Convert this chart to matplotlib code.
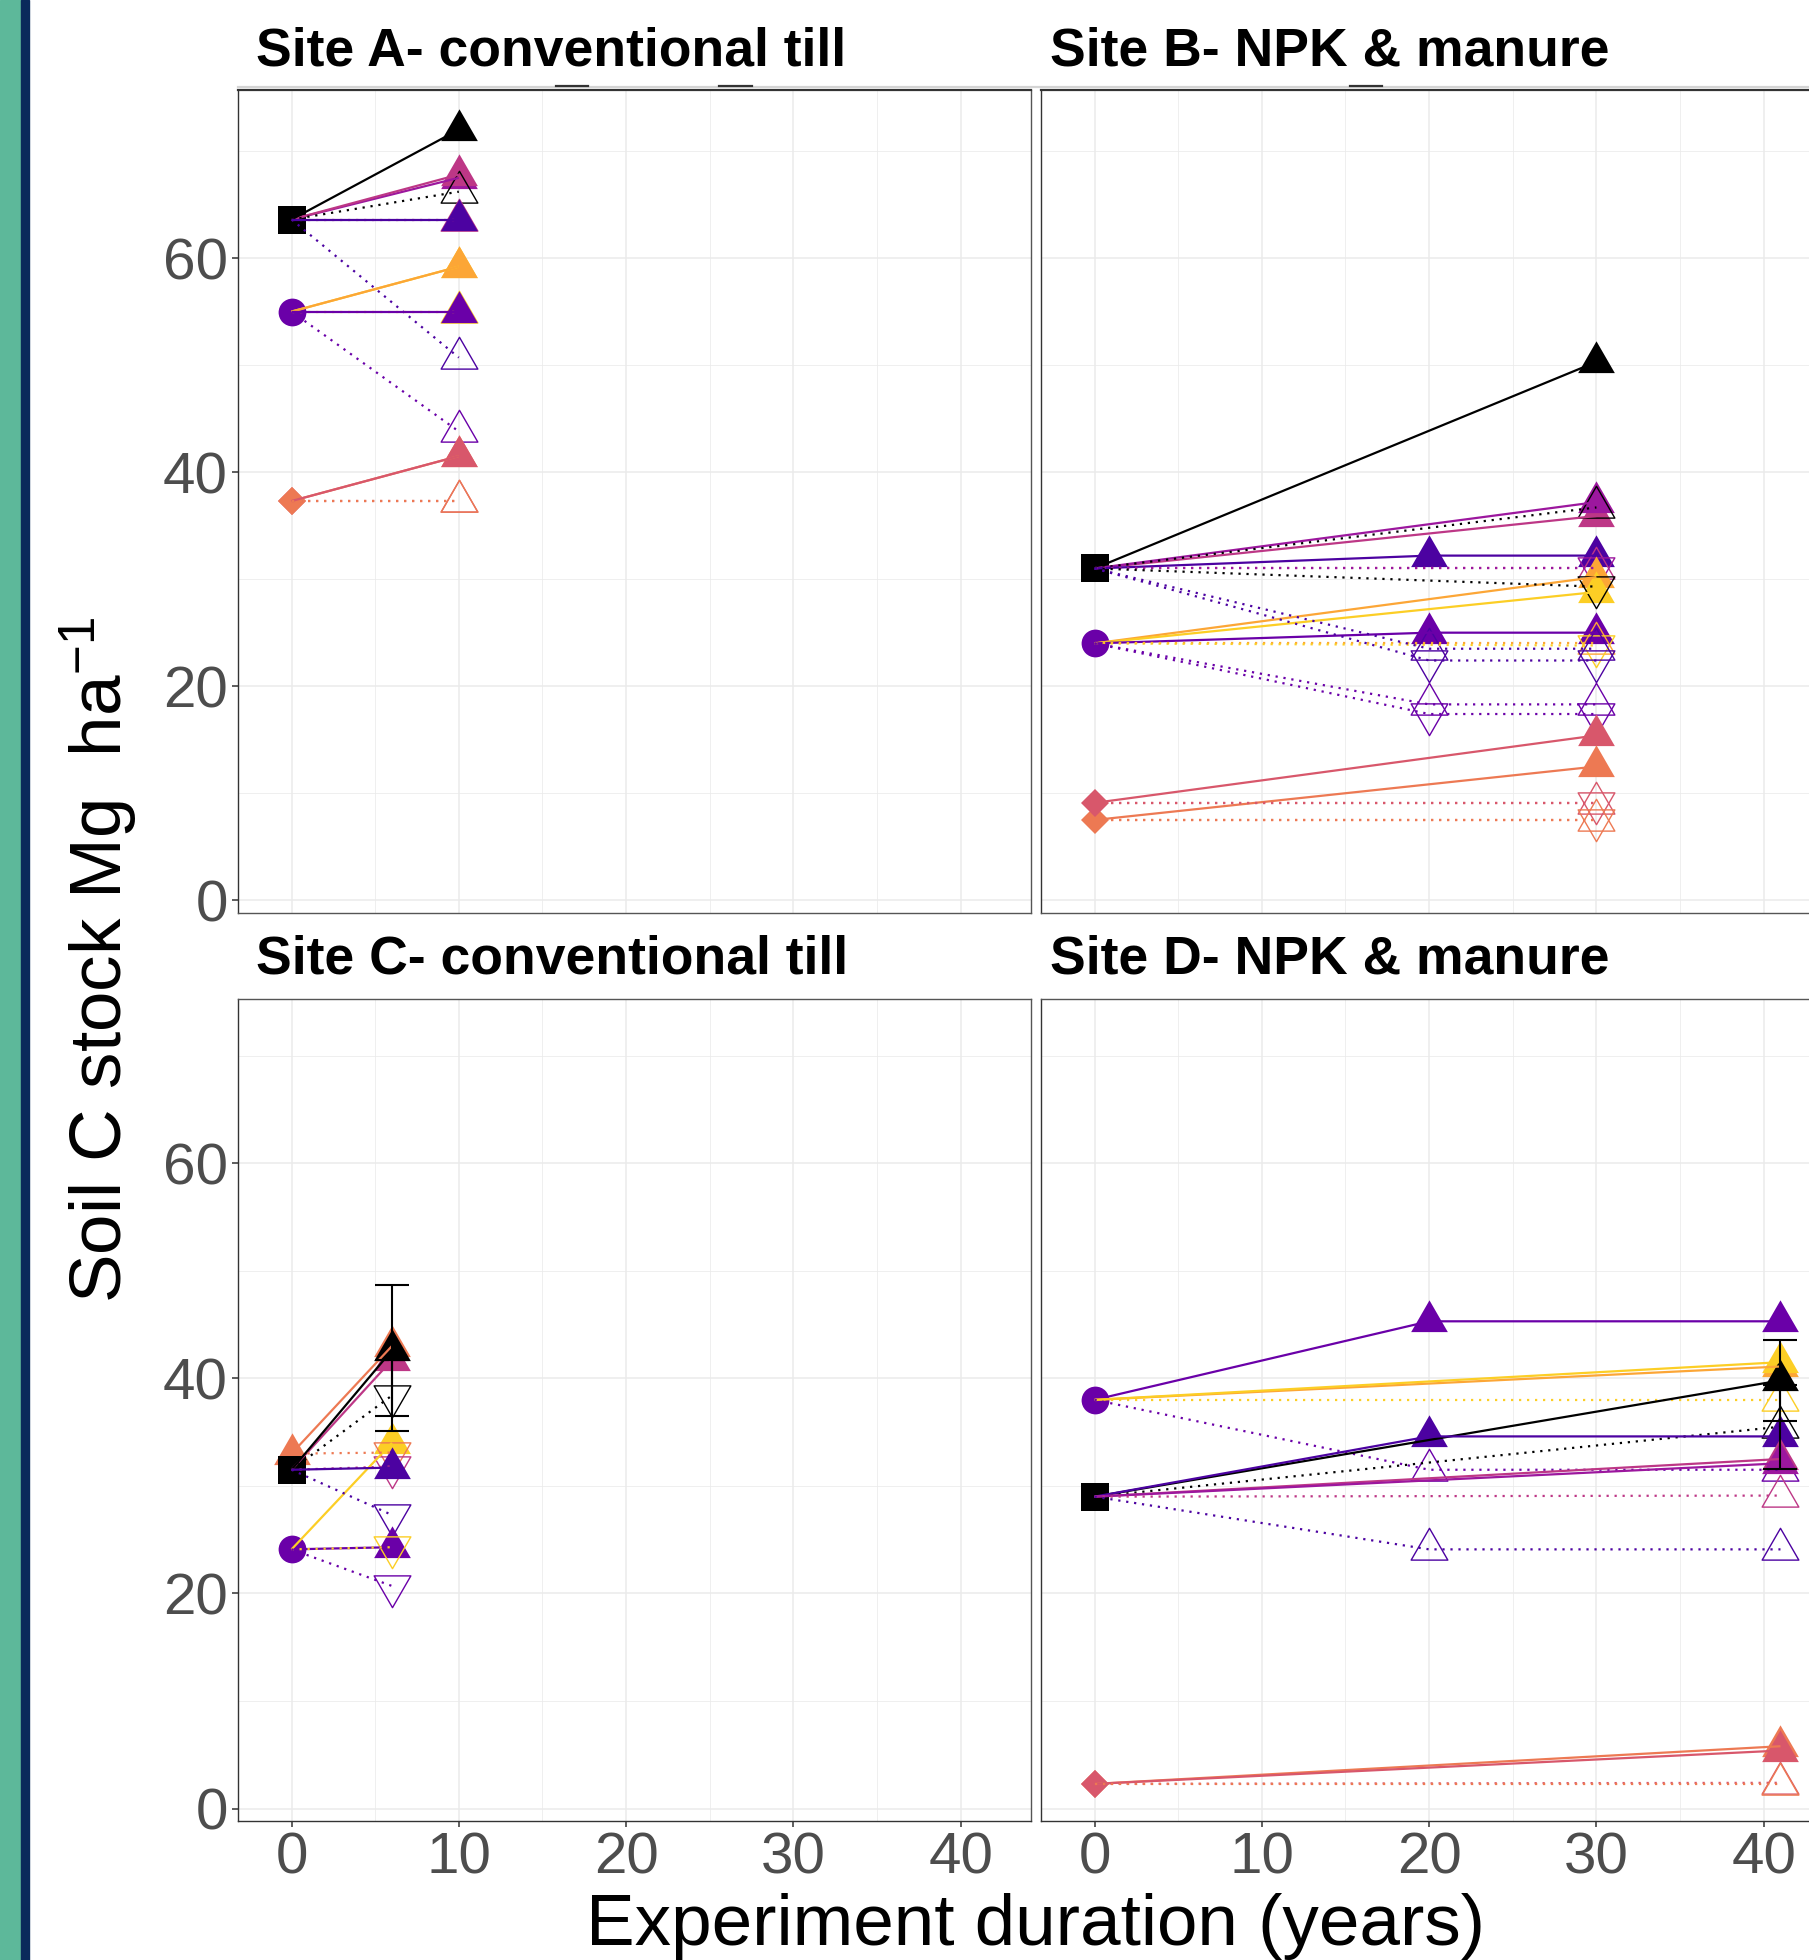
import numpy as np
import matplotlib
matplotlib.use("Agg")
from matplotlib import pyplot as plt
from matplotlib.path import Path
from matplotlib.patches import Rectangle
from matplotlib.lines import Line2D

plt.rcParams['font.family'] = ['Liberation Sans', 'DejaVu Sans']
plt.rcParams['mathtext.fontset'] = 'custom'
plt.rcParams['mathtext.rm'] = 'Liberation Sans'
plt.rcParams['mathtext.it'] = 'Liberation Sans:italic'
plt.rcParams['mathtext.bf'] = 'Liberation Sans:bold'

# ---------------- data ----------------
titles = ["Site A- conventional till", "Site B- NPK & manure",
          "Site C- conventional till", "Site D- NPK & manure"]

# year-0 reference points: (shape, colour, value)
# series: (colour, type, values per year)  type: fill = measured (solid),
#         up / down = hollow triangles (dotted)
years_A = [0, 10]
base_A = [("di", "red", 37.3), ("di", "ora", 37.3), ("ci", "pur", 55.0), ("sq", "k", 63.6)]
site_A = [
    ("mag", "fill", [63.6, 67.5]),
    ("pink", "fill", [63.6, 67.8]),
    ("k", "fill", [63.6, 72.0]),
    ("k", "up", [63.6, 66.2]),
    ("pink", "up", [63.6, 63.6]),
    ("ind", "fill", [63.6, 63.6]),
    ("ind", "up", [63.6, 50.7]),
    ("yel", "fill", [55.0, 59.2]),
    ("lor", "fill", [55.0, 59.2]),
    ("yel", "up", [55.0, 55.0]),
    ("pur", "fill", [55.0, 55.0]),
    ("pur", "up", [55.0, 43.8]),
    ("ora", "fill", [37.3, 41.5]),
    ("red", "fill", [37.3, 41.5]),
    ("red", "up", [37.3, 37.3]),
    ("ora", "up", [37.3, 37.3]),
]

years_B = [0, 20, 30]
base_B = [("di", "ora", 7.5), ("di", "red", 9.1), ("ci", "pur", 24.0), ("sq", "k", 31.0)]
site_B = [
    ("k", "fill", [31.0, None, 50.3]),
    ("pink", "fill", [31.0, None, 35.9]),
    ("mag", "fill", [31.0, None, 37.2]),
    ("k", "up", [31.0, None, 36.7]),
    ("ind", "fill", [31.0, 32.2, 32.2]),
    ("pink", "up", [31.0, None, 31.0]),
    ("mag", "down", [31.0, None, 31.0]),
    ("lor", "fill", [24.0, None, 30.2]),
    ("yel", "fill", [24.0, None, 28.8]),
    ("k", "down", [31.0, None, 29.3]),
    ("pur", "fill", [24.0, 25.0, 25.0]),
    ("lor", "up", [24.0, None, 24.0]),
    ("yel", "down", [24.0, None, 23.8]),
    ("ind", "up", [31.0, 23.5, 23.5]),
    ("ind", "down", [31.0, 22.4, 22.4]),
    ("pur", "up", [24.0, 18.3, 18.3]),
    ("pur", "down", [24.0, 17.4, 17.4]),
    ("red", "fill", [9.1, None, 15.4]),
    ("ora", "fill", [7.5, None, 12.5]),
    ("red", "up", [9.1, None, 9.1]),
    ("red", "down", [9.1, None, 9.1]),
    ("ora", "up", [7.5, None, 7.5]),
    ("ora", "down", [7.5, None, 7.5]),
]

years_C = [0, 6]
base_C = [("tri", "ora", 33.0), ("ci", "pur", 24.1), ("sq", "k", 31.5)]
site_C = [
    ("ora", "fill", [33.0, 43.0]),
    ("pink", "fill", [31.5, 41.7]),
    ("k", "fill", [31.5, 42.6]),
    ("k", "down", [31.5, 38.4]),
    ("yel", "fill", [24.1, 34.0]),
    ("ora", "down", [33.0, 33.1]),
    ("pink", "down", [31.5, 31.8]),
    ("ind", "fill", [31.5, 31.7]),
    ("ind", "down", [31.5, 27.3]),
    ("pur", "fill", [24.1, 24.3]),
    ("yel", "down", [24.1, 24.3]),
    ("pur", "down", [24.1, 20.7]),
]
err_C = [("k", "fill", 6.1), ("k", "down", 3.3)]

years_D = [0, 20, 41]
base_D = [("di", "ora", 2.3), ("di", "red", 2.3), ("ci", "pur", 38.0), ("sq", "k", 29.0)]
site_D = [
    ("pur", "fill", [38.0, 45.3, 45.3]),
    ("lor", "fill", [38.0, None, 41.1]),
    ("yel", "fill", [38.0, None, 41.5]),
    ("yel", "up", [38.0, None, 38.0]),
    ("pur", "up", [38.0, 31.5, 31.5]),
    ("k", "fill", [29.0, None, 39.8]),
    ("k", "up", [29.0, None, 35.5]),
    ("ind", "fill", [29.0, 34.6, 34.6]),
    ("pink", "fill", [29.0, None, 32.5]),
    ("mag", "fill", [29.0, None, 32.1]),
    ("pink", "up", [29.0, None, 29.1]),
    ("ind", "up", [29.0, 24.1, 24.1]),
    ("ora", "fill", [2.3, None, 5.8]),
    ("red", "fill", [2.3, None, 5.4]),
    ("red", "up", [2.3, None, 2.4]),
    ("ora", "up", [2.3, None, 2.3]),
]
err_D = [("k", "fill", 3.8), ("k", "up", 3.9)]

# ---------------- style ----------------
pal = {
    'k': '#000000', 'ind': '#4C02A1', 'pur': '#6A00A8', 'mag': '#9C179E',
    'pink': '#BD3786', 'red': '#D8576B', 'ora': '#ED7953', 'lor': '#FCA636',
    'yel': '#FCCE25',
}

# equilateral triangles centred on the centroid (like ggplot shape 17 / 2 / 6)
tri_up = Path([(0, 0.577), (-0.5, -0.289), (0.5, -0.289), (0, 0.577)],
              [Path.MOVETO, Path.LINETO, Path.LINETO, Path.CLOSEPOLY])
tri_dn = Path([(0, -0.577), (-0.5, 0.289), (0.5, 0.289), (0, -0.577)],
              [Path.MOVETO, Path.LINETO, Path.LINETO, Path.CLOSEPOLY])
TRI_MS = 30.5
base_mk = {"sq": ("s", 20), "ci": ("o", 20), "di": ("D", 14), "tri": (tri_up, TRI_MS)}

W, H = 1809, 1960
fig = plt.figure(figsize=(W / 100, H / 100), dpi=100)


def box(l, t, r, b):
    return [l / W, 1 - b / H, (r - l) / W, (b - t) / H]


def draw(ax, years, base, series, errs=()):
    for shape, col, v in base:
        mk, ms = base_mk[shape]
        ax.plot([0], [v], ls='none', marker=mk, ms=ms, color=pal[col], mew=0, zorder=3)
    last = {}
    for col, kind, vals in series:
        x = [yr for yr, v in zip(years, vals) if v is not None]
        y = [v for v in vals if v is not None]
        c = pal[col]
        if kind == 'fill':
            ax.plot(x[1:], y[1:], ls='none', marker=tri_up, ms=TRI_MS, color=c, mew=0, zorder=3)
            ax.plot(x, y, color=c, lw=1.6, zorder=4, solid_capstyle='butt')
        else:
            mk = tri_up if kind == 'up' else tri_dn
            ax.plot(x[1:], y[1:], ls='none', marker=mk, ms=TRI_MS, mfc='none', mec=c,
                    mew=1.0, zorder=3)
            ax.plot(x, y, color=c, lw=1.6, ls=(0, (1, 2.6)), zorder=4)
        last[(col, kind)] = (x[-1], y[-1])
    for col, kind, e in errs:
        xe, ye = last[(col, kind)]
        ax.errorbar([xe], [ye], yerr=[e], fmt='none', ecolor=pal[col], elinewidth=1.5,
                    capsize=12, capthick=1.5, zorder=5)


panels = [
    (box(238, 90, 1031, 913), (-1.19, 75.7), years_A, base_A, site_A, ()),
    (box(1041, 90, 1834, 913), (-1.19, 75.7), years_B, base_B, site_B, ()),
    (box(238, 999, 1031, 1821), (-1.15, 75.26), years_C, base_C, site_C, err_C),
    (box(1041, 999, 1834, 1821), (-1.15, 75.26), years_D, base_D, site_D, err_D),
]

for i, (rect, ylim, years, base, series, errs) in enumerate(panels):
    ax = fig.add_axes(rect)
    draw(ax, years, base, series, errs)
    ax.set_xlim(-3.2, 44.2)
    ax.set_ylim(*ylim)
    ax.set_xticks([0, 10, 20, 30, 40])
    ax.set_xticks([5, 15, 25, 35], minor=True)
    ax.set_yticks([0, 20, 40, 60])
    ax.set_yticks([10, 30, 50, 70], minor=True)
    ax.grid(which='major', color='#EBEBEB', lw=1.1)
    ax.grid(which='minor', color='#EBEBEB', lw=0.55)
    ax.set_axisbelow(True)
    ax.tick_params(which='minor', length=0)
    ax.tick_params(which='major', labelsize=42, labelcolor='#4D4D4D', length=4.3,
                   width=1.1, color='#333333', pad=3)
    left = i in (0, 2)
    bottom = i in (2, 3)
    ax.tick_params(axis='y', left=left, labelleft=left)
    ax.tick_params(axis='x', bottom=bottom, labelbottom=bottom)
    for s in ax.spines.values():
        s.set_color('#555555')
        s.set_linewidth(1.0)
    ax.spines['left'].set_color('#333333')
    if i < 2:
        ax.spines['top'].set_color('#333333')
        ax.spines['top'].set_linewidth(1.6)
    if bottom:
        ax.spines['bottom'].set_color('#333333')

# light band above the top row and small leftover marks
fig.add_artist(Line2D([238 / W, 1], [1 - 87.5 / H] * 2, color='#D4D4D4', lw=1.6))
for x0, x1 in [(556, 588), (719, 752), (1350, 1382)]:
    fig.add_artist(Line2D([x0 / W, x1 / W], [1 - 86.5 / H] * 2, color='#333333', lw=1.6))

# strip titles
fig.text(256 / W, 1 - 66 / H, titles[0], fontsize=38.5, fontweight='bold', va='baseline')
fig.text(1050 / W, 1 - 66 / H, titles[1], fontsize=38.5, fontweight='bold', va='baseline')
fig.text(256 / W, 1 - 973 / H, titles[2], fontsize=38.5, fontweight='bold', va='baseline')
fig.text(1050 / W, 1 - 973 / H, titles[3], fontsize=38.5, fontweight='bold', va='baseline')

# axis labels
fig.text(1036 / W, 1 - 1945 / H, "Experiment duration (years)", fontsize=52.5,
         ha='center', va='baseline')
fig.text(99 / W, 1 - 960 / H, "Soil C stock Mg  ha$^{-1}$", fontsize=52.5,
         rotation=90, ha='center', va='center')

# coloured side bar
fig.patches.append(Rectangle((0, 0), 21 / W, 1, transform=fig.transFigure,
                             color='#5DB89A', zorder=0))
fig.patches.append(Rectangle((21 / W, 0), 8 / W, 1, transform=fig.transFigure,
                             color='#0A2A5B', zorder=0))

plt.savefig('out.png', dpi=100)
